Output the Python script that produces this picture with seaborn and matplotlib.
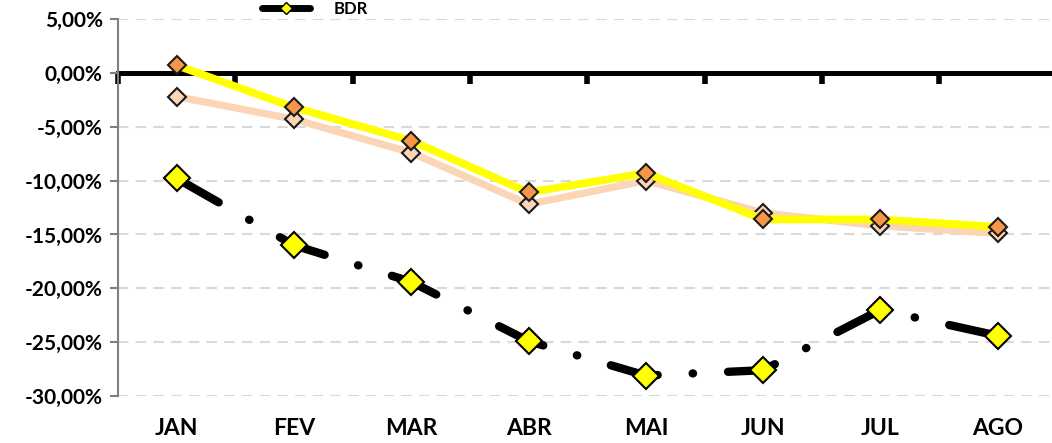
import seaborn as sns
import matplotlib.pyplot as plt
from matplotlib.lines import Line2D
import pandas as pd

## data (values in %)
meses = ["JAN", "FEV", "MAR", "ABR", "MAI", "JUN", "JUL", "AGO"]
serie_amarela = [0.7, -3.2, -6.3, -11.1, -9.3, -13.6, -13.6, -14.3]
serie_pessego = [-2.2, -4.3, -7.4, -12.2, -10.0, -13.0, -14.2, -14.9]
bdr = [-9.8, -16.0, -19.4, -24.9, -28.1, -27.6, -22.0, -24.4]
y_ticks = [5, 0, -5, -10, -15, -20, -25, -30]

df = pd.DataFrame({"mes": meses, "amarela": serie_amarela,
                   "pessego": serie_pessego, "BDR": bdr})

sns.set_style("white")
plt.rcParams['font.family'] = ['Lato', 'DejaVu Sans']
plt.rcParams['text.color'] = 'black'

fig = plt.figure(figsize=(10.52, 4.43), dpi=100)
ax = fig.add_axes([0.1122, 0.106, 0.892, 0.851])

## grid lines first
for v in y_ticks:
    ax.axhline(v, color="#d9d9d9", lw=1.5, ls=(0, (5, 3.5)), zorder=0)

## peach series
sns.lineplot(data=df, x="mes", y="pessego", ax=ax, color="#fbd5b5", lw=5.2,
             marker="D", markersize=9, markerfacecolor="#fcd5b5",
             markeredgecolor="#1a1a1a", markeredgewidth=1.5, zorder=3)
## yellow series
sns.lineplot(data=df, x="mes", y="amarela", ax=ax, color="#ffff00", lw=5.6,
             marker="D", markersize=9, markerfacecolor="#f79646",
             markeredgecolor="#1a1a1a", markeredgewidth=1.5, zorder=4)
## BDR dash-dot
sns.lineplot(data=df, x="mes", y="BDR", ax=ax, color="black", lw=6,
             marker="D", markersize=13, markerfacecolor="#ffff00",
             markeredgecolor="black", markeredgewidth=1.5, zorder=5)
ln = ax.lines[-1]
ln.set_linestyle((0, (5.8, 4.2, 0.05, 4.2)))
ln.set_dash_capstyle("round")

ax.set_xlim(-0.5, 7.5)
ax.set_ylim(-30, 5)
ax.set_yticks(y_ticks)
ax.set_yticklabels([f"{v:.2f}%".replace(".", ",") for v in y_ticks],
                   fontsize=15, fontweight="bold", color="black")
ax.set_xticks(range(len(meses)))
ax.set_xticklabels(meses, fontsize=16.5, fontweight="bold", color="black")
ax.set_xlabel("")
ax.set_ylabel("")
ax.tick_params(axis="x", length=0, pad=16)
ax.tick_params(axis="y", length=6, width=1.5, color="#808080", left=True, pad=5)

for s in ["top", "right", "bottom"]:
    ax.spines[s].set_visible(False)
ax.spines["left"].set_color("#808080")
ax.spines["left"].set_linewidth(1.5)

## zero line with category-boundary tick marks (pointing down)
sec = ax.secondary_xaxis(30 / 35)
sec.set_xticks([i - 0.5 for i in range(len(meses) + 1)])
sec.set_xticklabels([])
sec.xaxis.set_ticks_position("bottom")
sec.tick_params(axis="x", which="both", direction="out", bottom=True, top=False,
                length=8, width=4, color="black")
for s in ["top", "bottom"]:
    sec.spines[s].set_linewidth(3.5)
    sec.spines[s].set_color("black")
ax.axhline(0, color="black", lw=3.5, zorder=2)

## legend (only BDR visible at top)
h = Line2D([], [], color="black", lw=5, marker="D", markersize=6,
           markerfacecolor="#ffff00", markeredgecolor="black")
fig.legend([h], ["BDR"], loc="center left", bbox_to_anchor=(262 / 1052, 1 - 9 / 443),
           frameon=False, borderpad=0, borderaxespad=0, handlelength=2.9,
           handletextpad=1.4, prop={"weight": "bold", "size": 12})

fig.savefig("out.png", dpi=100)
